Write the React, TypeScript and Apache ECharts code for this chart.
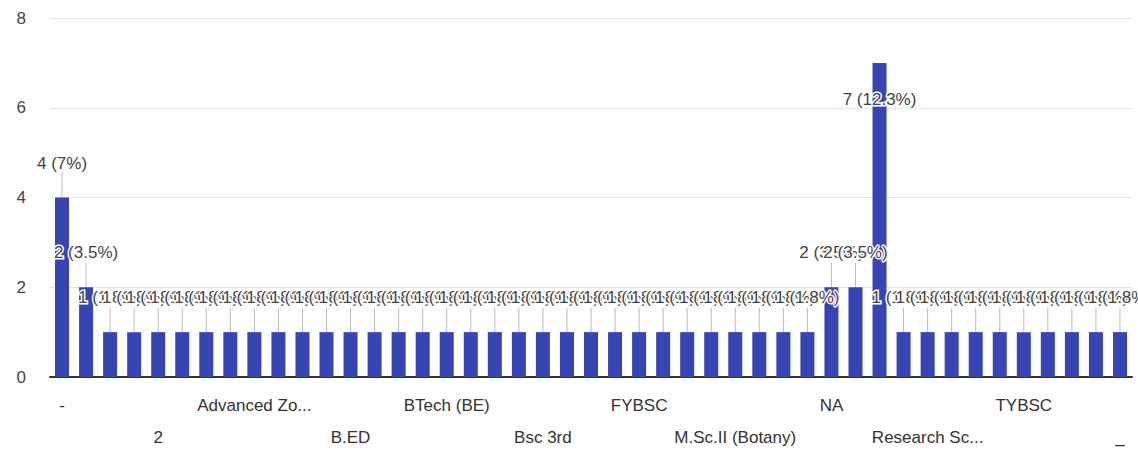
import React, { useEffect, useRef } from "react";
import * as echarts from "echarts";

const categories: string[] = [
  "-", ".", "1", "12th", "2", "3rd year", "A", "Advanced Botany",
  "Advanced Zoology and Animal Science", "Agriculture", "B.A", "B.COM", "B.ED", "B.Sc", "BA", "BSc",
  "BTech (BE)", "Biotechnology", "Bsc", "Bsc 2nd", "Bsc 3rd", "Chemistry", "Diploma", "F.Y.B.Sc",
  "FYBSC", "Graduation", "M.A", "M.Sc", "M.Sc.II (Botany)", "MBA", "MSc", "Msc Zoology",
  "NA", "No", "None", "PG", "Research Scholar (Zoology)", "S.Y.B.Sc", "SYBSC", "Student",
  "TYBSC", "Teacher", "UG", "Zoology", "_",
];

const counts: number[] = [
  4, 2, 1, 1, 1, 1, 1, 1,
  1, 1, 1, 1, 1, 1, 1, 1,
  1, 1, 1, 1, 1, 1, 1, 1,
  1, 1, 1, 1, 1, 1, 1, 1,
  2, 2, 7, 1, 1, 1, 1, 1,
  1, 1, 1, 1, 1,
];

const yTicks = { min: 0, max: 8, interval: 2 };

const FONT = "'Liberation Sans', Arial, sans-serif";

export default function App() {
  const ref = useRef<HTMLDivElement>(null);
  useEffect(() => {
    if (!ref.current) return;
    const chart = echarts.init(ref.current, undefined, { renderer: "svg" });
    const total = counts.reduce((a, b) => a + b, 0);
    const pct = (v: number) => {
      const p = Math.round((v / total) * 1000) / 10;
      return `${v} (${p}%)`;
    };
    const maxVal = Math.max(...counts);
    chart.setOption({
      animation: false,
      grid: { left: 50, right: 6, top: 18, bottom: 78, containLabel: false },
      xAxis: {
        type: "category",
        data: categories,
        axisTick: { show: false },
        axisLine: { lineStyle: { color: "#333", width: 2 } },
        axisLabel: {
          interval: 3,
          color: "#333",
          fontSize: 17,
          fontFamily: FONT,
          lineHeight: 32,
          margin: 12,
          formatter: (value: string, index: number) => {
            const v = value.length > 16 ? value.slice(0, 11) + "..." : value;
            return index % 8 === 4 ? "\n" + v : v;
          },
        },
      },
      yAxis: {
        type: "value",
        min: yTicks.min,
        max: yTicks.max,
        interval: yTicks.interval,
        axisLabel: { color: "#444", fontSize: 17, fontFamily: FONT, margin: 24 },
        splitLine: { lineStyle: { color: "#e6e6e6" } },
        axisLine: { show: false },
        axisTick: { show: false },
      },
      series: [
        {
          type: "bar",
          barWidth: 14,
          data: counts.map((v) =>
            v === maxVal
              ? {
                  value: v,
                  label: { position: "insideTop", distance: 28 },
                  labelLine: { show: false },
                }
              : v
          ),
          itemStyle: { color: "#3745b4" },
          label: {
            show: true,
            position: "top",
            distance: 26,
            color: "#444",
            fontSize: 17,
            fontFamily: FONT,
            textBorderColor: "#fff",
            textBorderWidth: 3,
            formatter: (p: any) => pct(p.value),
          },
          labelLine: { show: true, lineStyle: { color: "#bbb", width: 1 } },
          labelLayout: { dy: 0 },
        },
      ],
    });
    return () => chart.dispose();
  }, []);
  return (
    <div
      ref={ref}
      style={{ position: "absolute", left: 0, top: 0, width: 1138, height: 455 }}
    />
  );
}
